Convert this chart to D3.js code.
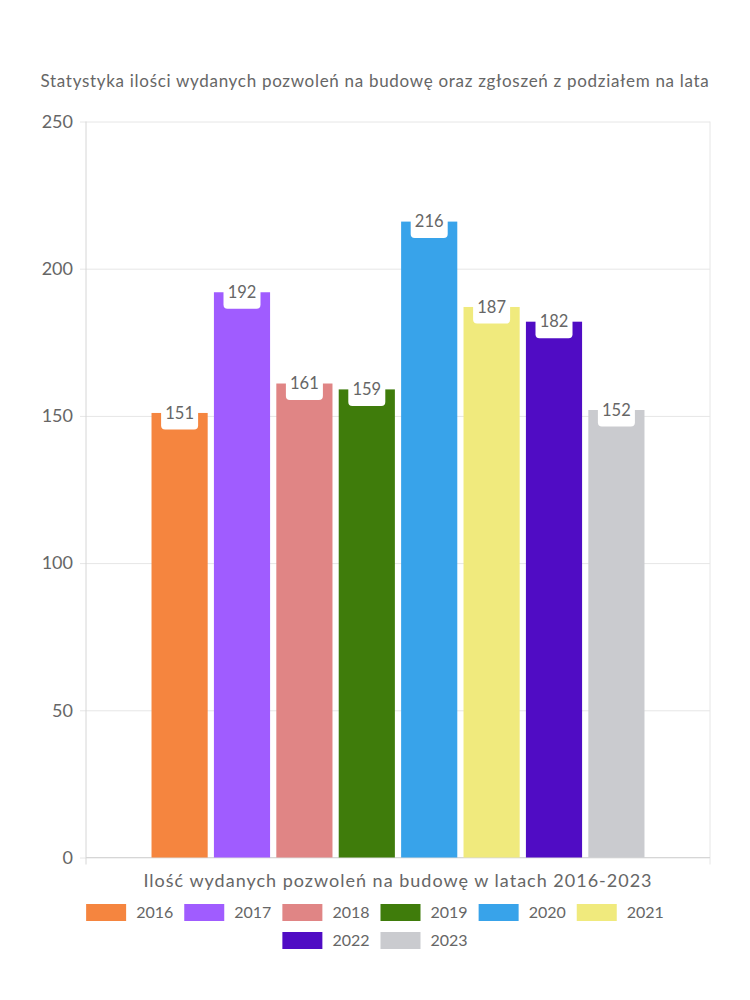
<!DOCTYPE html>
<html>
<head>
<meta charset="utf-8">
<script src="https://cdn.jsdelivr.net/npm/d3@7"></script>
<style>
  html, body { margin: 0; padding: 0; background: #fff; }
  svg { display: block; font-family: Lato, "Noto Sans", sans-serif; }
</style>
</head>
<body>
<svg id="chart" width="750" height="1000"></svg>
<script>
const title = "Statystyka ilości wydanych pozwoleń na budowę oraz zgłoszeń z podziałem na lata";
const category = "Ilość wydanych pozwoleń na budowę w latach 2016-2023";
const years = ["2016", "2017", "2018", "2019", "2020", "2021", "2022", "2023"];
const values = [151, 192, 161, 159, 216, 187, 182, 152];
const colors = ["#F5853F", "#A05CFF", "#E08585", "#3F7C0B", "#38A3EA", "#F0EA7D", "#500CC4", "#CACBCF"];
const yTicks = [0, 50, 100, 150, 200, 250];

const svg = d3.select("#chart");
const M = { left: 86, right: 710, top: 121.5, bottom: 857.5 };
const textColor = "#666";

const x0 = d3.scaleBand().domain([category]).range([M.left, M.right]).paddingInner(0.2).paddingOuter(0.1);
const x1 = d3.scaleBand().domain(years).range([0, x0.bandwidth()]).paddingInner(0.1).paddingOuter(0.05);
const y = d3.scaleLinear().domain([0, 250]).range([M.bottom, M.top]);
const color = d3.scaleOrdinal().domain(years).range(colors);

// title
svg.append("text").attr("x", 375).attr("y", 87).attr("text-anchor", "middle")
  .attr("font-size", 17).attr("letter-spacing", 0.7).attr("fill", textColor).text(title);

// gridlines
const yAxis = d3.axisLeft(y).tickValues(yTicks).tickSize(-(M.right - M.left)).tickPadding(13);
const gy = svg.append("g").attr("transform", `translate(${M.left},0)`).call(yAxis);
gy.select(".domain").remove();
gy.selectAll(".tick line").attr("stroke", "#e6e6e6").attr("x1", -6);
gy.selectAll(".tick text").attr("fill", textColor).attr("font-size", 18).attr("font-family", "Lato, sans-serif");

// frame lines
svg.append("line").attr("x1", M.left).attr("x2", M.left).attr("y1", M.top).attr("y2", M.bottom + 7).attr("stroke", "#d6d6d6");
svg.append("line").attr("x1", M.right).attr("x2", M.right).attr("y1", M.top).attr("y2", M.bottom + 7).attr("stroke", "#e6e6e6");
svg.append("line").attr("x1", M.left).attr("x2", M.right).attr("y1", M.bottom).attr("y2", M.bottom).attr("stroke", "#d6d6d6");

// bars
const data = years.map((yr, i) => ({ year: yr, value: values[i] }));
const g = svg.append("g").attr("transform", `translate(${x0(category)},0)`);
g.selectAll("rect.bar").data(data).join("rect").attr("class", "bar")
  .attr("x", d => x1(d.year)).attr("width", x1.bandwidth())
  .attr("y", d => y(d.value)).attr("height", d => y(0) - y(d.value))
  .attr("fill", d => color(d.year));

// value labels
const lbl = g.selectAll("g.lbl").data(data).join("g").attr("class", "lbl")
  .attr("transform", d => `translate(${x1(d.year) + x1.bandwidth() / 2},${y(d.value)})`);
lbl.append("rect").attr("x", -18.5).attr("y", -16).attr("width", 37).attr("height", 32.5).attr("rx", 4)
  .attr("fill", "#fff");
lbl.append("text").attr("text-anchor", "middle").attr("dy", "0.35em").attr("font-size", 16.5)
  .attr("fill", textColor).text(d => d.value);

// category label
svg.append("text").attr("x", x0(category) + x0.bandwidth() / 2).attr("y", 887).attr("text-anchor", "middle")
  .attr("font-size", 18).attr("letter-spacing", 1).attr("fill", textColor).text(category);

// legend
const rows = [years.slice(0, 6), years.slice(6)];
const rowY = [904, 932];
const lg = svg.append("g");
rows.forEach((row, ri) => {
  const items = row.map(yr => {
    const t = lg.append("text").attr("font-size", 16).attr("fill", textColor).text(yr);
    const w = t.node().getComputedTextLength();
    return { yr, t, w: 40 + 10 + w };
  });
  const gap = 11;
  const total = d3.sum(items, d => d.w) + gap * (items.length - 1);
  let cx = 375 - total / 2;
  items.forEach(it => {
    lg.append("rect").attr("x", cx).attr("y", rowY[ri]).attr("width", 40).attr("height", 17).attr("fill", color(it.yr));
    it.t.attr("x", cx + 50).attr("y", rowY[ri] + 8.5).attr("dy", "0.35em");
    cx += it.w + gap;
  });
});
</script>
</body>
</html>
